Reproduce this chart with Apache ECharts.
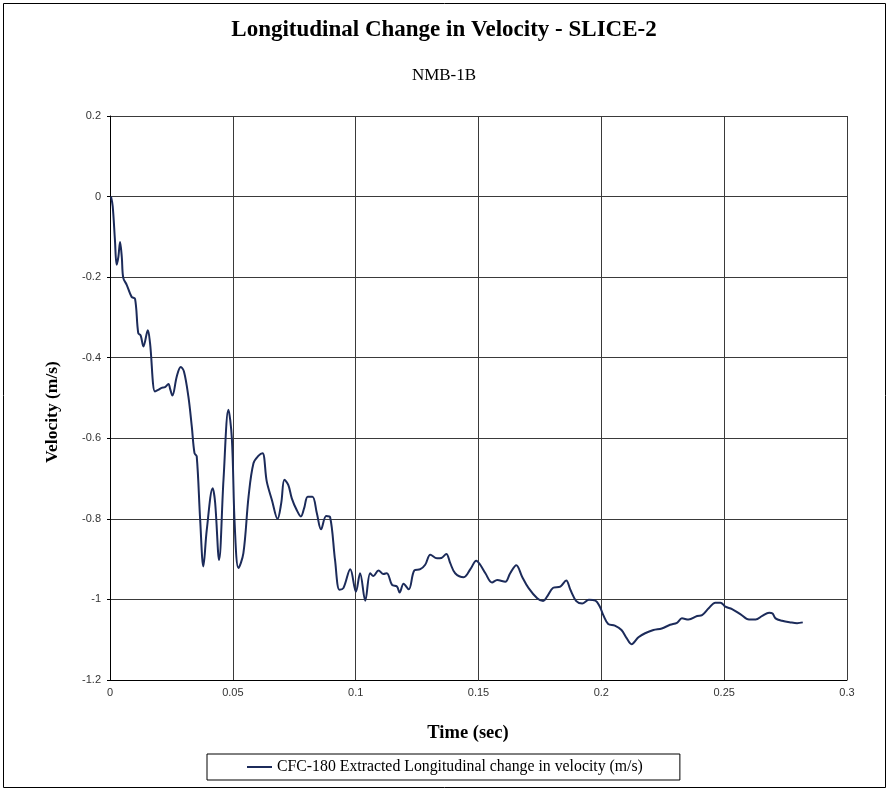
<!DOCTYPE html>
<html>
<head>
<meta charset="utf-8">
<script src="https://cdn.jsdelivr.net/npm/echarts@6/dist/echarts.min.js"></script>
<style>
  html, body { margin: 0; padding: 0; background: #fff; }
  #chart { width: 888px; height: 790px; }
</style>
</head>
<body>
<div id="chart"></div>
<script>
// Sample times (sec) of the CFC-180 filtered longitudinal velocity trace
const timeSec = [
  0.0004, 0.0011, 0.0020, 0.0027, 0.0034, 0.0041, 0.0048, 0.0054, 0.0068, 0.0088,
  0.0102, 0.0115, 0.0125, 0.0136, 0.0154, 0.0163, 0.0183, 0.0196, 0.0210, 0.0224,
  0.0238, 0.0245, 0.0254, 0.0272, 0.0288, 0.0301, 0.0319, 0.0333, 0.0344, 0.0353,
  0.0367, 0.0380, 0.0394, 0.0418, 0.0428, 0.0444, 0.0462, 0.0482, 0.0496, 0.0508,
  0.0523, 0.0543, 0.0564, 0.0584, 0.0605, 0.0621, 0.0638, 0.0659, 0.0682, 0.0697,
  0.0710, 0.0726, 0.0740, 0.0760, 0.0777, 0.0790, 0.0805, 0.0824, 0.0842, 0.0859,
  0.0880, 0.0896, 0.0916, 0.0934, 0.0950, 0.0978, 0.1001, 0.1018, 0.1039, 0.1059,
  0.1072, 0.1093, 0.1113, 0.1127, 0.1148, 0.1168, 0.1179, 0.1195, 0.1216, 0.1239,
  0.1263, 0.1283, 0.1304, 0.1331, 0.1349, 0.1369, 0.1385, 0.1405, 0.1440, 0.1467,
  0.1491, 0.1507, 0.1528, 0.1555, 0.1576, 0.1609, 0.1629, 0.1654, 0.1677, 0.1704,
  0.1739, 0.1763, 0.1779, 0.1804, 0.1833, 0.1857, 0.1874, 0.1898, 0.1922, 0.1949,
  0.1976, 0.1994, 0.2008, 0.2028, 0.2055, 0.2082, 0.2103, 0.2123, 0.2151, 0.2178,
  0.2212, 0.2246, 0.2280, 0.2308, 0.2328, 0.2355, 0.2390, 0.2410, 0.2437, 0.2464,
  0.2485, 0.2505, 0.2532, 0.2567, 0.2601, 0.2628, 0.2655, 0.2683, 0.2697, 0.2709,
  0.2736, 0.2770, 0.2797, 0.2820
];

// Change in velocity (m/s) at each sample time
const velocity = [
  0.000, -0.024, -0.107, -0.169, -0.150, -0.113, -0.150, -0.202, -0.219, -0.249,
  -0.254, -0.339, -0.345, -0.372, -0.332, -0.364, -0.484, -0.480, -0.475, -0.473,
  -0.465, -0.478, -0.494, -0.446, -0.423, -0.434, -0.496, -0.571, -0.637, -0.645,
  -0.802, -0.918, -0.827, -0.724, -0.760, -0.902, -0.703, -0.529, -0.600, -0.820,
  -0.922, -0.885, -0.745, -0.662, -0.643, -0.637, -0.707, -0.753, -0.800, -0.761,
  -0.703, -0.716, -0.749, -0.778, -0.794, -0.774, -0.745, -0.745, -0.786, -0.826,
  -0.793, -0.796, -0.902, -0.976, -0.972, -0.925, -0.981, -0.935, -1.003, -0.935,
  -0.942, -0.928, -0.937, -0.935, -0.964, -0.968, -0.983, -0.961, -0.975, -0.928,
  -0.925, -0.914, -0.889, -0.898, -0.897, -0.887, -0.910, -0.935, -0.945, -0.925,
  -0.904, -0.914, -0.935, -0.958, -0.952, -0.956, -0.935, -0.915, -0.943, -0.972,
  -0.997, -1.004, -0.993, -0.971, -0.968, -0.953, -0.976, -1.004, -1.010, -1.001,
  -1.003, -1.018, -1.039, -1.061, -1.065, -1.076, -1.096, -1.111, -1.094, -1.084,
  -1.076, -1.072, -1.063, -1.058, -1.047, -1.050, -1.041, -1.039, -1.022, -1.008,
  -1.008, -1.018, -1.024, -1.037, -1.050, -1.050, -1.041, -1.033, -1.035, -1.047,
  -1.053, -1.057, -1.059, -1.057
];

// Axis tick values
const xTicks = [0, 0.05, 0.1, 0.15, 0.2, 0.25, 0.3];
const yTicks = [-1.2, -1, -0.8, -0.6, -0.4, -0.2, 0, 0.2];

const seriesName = 'CFC-180 Extracted Longitudinal change in velocity (m/s)';
const serif = "'Liberation Serif', 'Times New Roman', serif";
const narrow = "'Liberation Sans Narrow', 'Arial Narrow', 'Liberation Sans', sans-serif";

const points = timeSec.map((t, i) => [t, velocity[i]]);

const chart = echarts.init(document.getElementById('chart'), null, { renderer: 'canvas' });
chart.setOption({
  backgroundColor: '#ffffff',
  animation: false,
  title: [
    {
      text: 'Longitudinal Change in Velocity - SLICE-2',
      left: 'center', top: 14,
      textStyle: { fontFamily: serif, fontWeight: 'bold', fontSize: 23, color: '#000' }
    },
    {
      text: 'NMB-1B',
      left: 'center', top: 62,
      textStyle: { fontFamily: serif, fontWeight: 'normal', fontSize: 17, color: '#000' }
    }
  ],
  graphic: [
    {
      type: 'rect',
      shape: { x: 3.5, y: 3.5, width: 882, height: 784 },
      style: { fill: null, stroke: '#000', lineWidth: 1 },
      silent: true
    },
    {
      // x-axis title
      type: 'text',
      x: 468, y: 733,
      style: {
        text: 'Time (sec)',
        font: "bold 18.5px 'Liberation Serif', 'Times New Roman', serif",
        fill: '#000', align: 'center', verticalAlign: 'middle'
      },
      silent: true
    },
    {
      // y-axis title
      type: 'text',
      x: 52, y: 412,
      rotation: Math.PI / 2,
      style: {
        text: 'Velocity (m/s)',
        font: "bold 17.5px 'Liberation Serif', 'Times New Roman', serif",
        fill: '#000', align: 'center', verticalAlign: 'middle'
      },
      silent: true
    }
  ],
  grid: { left: 110, right: 41, top: 116, bottom: 110, containLabel: false },
  legend: {
    data: [seriesName],
    left: 207, top: 754,
    padding: [5, 37, 5, 40],
    borderColor: '#000', borderWidth: 1,
    icon: 'rect', itemWidth: 25, itemHeight: 2, itemGap: 3,
    textStyle: { fontFamily: serif, fontSize: 15.8, color: '#000' }
  },
  xAxis: {
    type: 'value',
    min: xTicks[0], max: xTicks[xTicks.length - 1], interval: 0.05,
    axisLine: { show: true, onZero: false, lineStyle: { color: '#000', width: 1 } },
    axisTick: { show: false },
    axisLabel: {
      fontFamily: narrow, fontSize: 11, color: '#333', margin: 7,
      formatter: v => String(Math.round(v * 100) / 100)
    },
    splitLine: { show: true, lineStyle: { color: '#3a3a3a', width: 1 } }
  },
  yAxis: {
    type: 'value',
    min: yTicks[0], max: yTicks[yTicks.length - 1], interval: 0.2,
    axisLine: { show: true, onZero: false, lineStyle: { color: '#000', width: 1 } },
    axisTick: { show: true, length: 3, lineStyle: { color: '#000' } },
    axisLabel: {
      fontFamily: narrow, fontSize: 11, color: '#333', margin: 9,
      formatter: v => String(Math.round(v * 10) / 10)
    },
    splitLine: { show: true, lineStyle: { color: '#3a3a3a', width: 1 } }
  },
  series: [
    {
      name: seriesName,
      type: 'line',
      data: points,
      smooth: 0.35,
      showSymbol: false,
      symbol: 'none',
      lineStyle: { color: '#1c2b5a', width: 2 },
      itemStyle: { color: '#1c2b5a' }
    }
  ]
});
</script>
</body>
</html>
